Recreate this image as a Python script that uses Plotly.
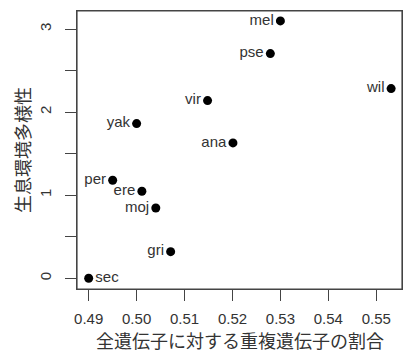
import plotly.graph_objects as go

species = ["mel", "pse", "wil", "vir", "ana", "yak", "per", "ere", "moj", "gri", "sec"]
dup_ratio = [0.530, 0.5279, 0.5531, 0.5148, 0.5201, 0.500, 0.4950, 0.5011, 0.5040, 0.5071, 0.490]
habitat_div = [3.10, 2.706, 2.284, 2.14, 1.63, 1.863, 1.18, 1.047, 0.846, 0.32, 0.0]
text_pos = ["middle left"] * 10 + ["middle right"]

x_ticks = [0.49, 0.50, 0.51, 0.52, 0.53, 0.54, 0.55]
x_ticklabels = ["0.49", "0.50", "0.51", "0.52", "0.53", "0.54", "0.55"]
y_ticks = [0, 1, 2, 3]
y_ticklabels = ["0", "1", "2", "3"]

FONT = "Liberation Sans, Arial, Noto Sans CJK JP, sans-serif"
CJK = "Noto Sans CJK JP, Liberation Sans, sans-serif"
LINE = "#444444"
TXT = "#333333"

fig = go.Figure(go.Scatter(
    x=dup_ratio, y=habitat_div, mode="markers+text",
    text=species, textposition=text_pos,
    textfont=dict(family=FONT, size=15, color=TXT),
    marker=dict(color="black", size=9),
    cliponaxis=False,
))

axis_common = dict(
    showline=True, mirror=True, linecolor=LINE, linewidth=1,
    ticks="outside", ticklen=11, tickcolor=LINE, tickwidth=1,
    showgrid=False, zeroline=False, automargin=False,
    tickfont=dict(family=FONT, size=15, color=TXT),
)

fig.update_xaxes(
    range=[0.48756, 0.55537], tickvals=x_ticks, ticktext=x_ticklabels,
    ticklabelstandoff=5,
    **axis_common,
)
fig.update_yaxes(
    range=[-0.13, 3.219], tickvals=y_ticks, ticktext=y_ticklabels, tickangle=-90,
    ticklabelstandoff=8,
    minor=dict(tickvals=[0.5, 1.5, 2.5], ticks="outside", ticklen=11, tickcolor=LINE),
    **axis_common,
)

fig.add_shape(type="rect", xref="paper", yref="paper", x0=0, y0=0, x1=1, y1=1,
              line=dict(color=LINE, width=1.2), fillcolor="rgba(0,0,0,0)", layer="above")

fig.add_annotation(text="全遺伝子に対する重複遺伝子の割合", xref="paper", yref="paper",
                   x=0.5, y=0, yshift=-51, yanchor="middle", showarrow=False,
                   font=dict(family=CJK, size=18, color=TXT))
fig.add_annotation(text="生息環境多様性", xref="paper", yref="paper",
                   x=0, xshift=-55, y=0.5, xanchor="center", yanchor="middle", textangle=-90,
                   showarrow=False, font=dict(family=CJK, size=18, color=TXT))

fig.update_layout(
    width=409, height=352,
    margin=dict(l=77, r=7, t=11, b=63, autoexpand=False),
    plot_bgcolor="white", paper_bgcolor="white",
    showlegend=False,
)

fig.write_html("out.html", config={"displayModeBar": False},
               post_script="document.body.style.margin='0';")
